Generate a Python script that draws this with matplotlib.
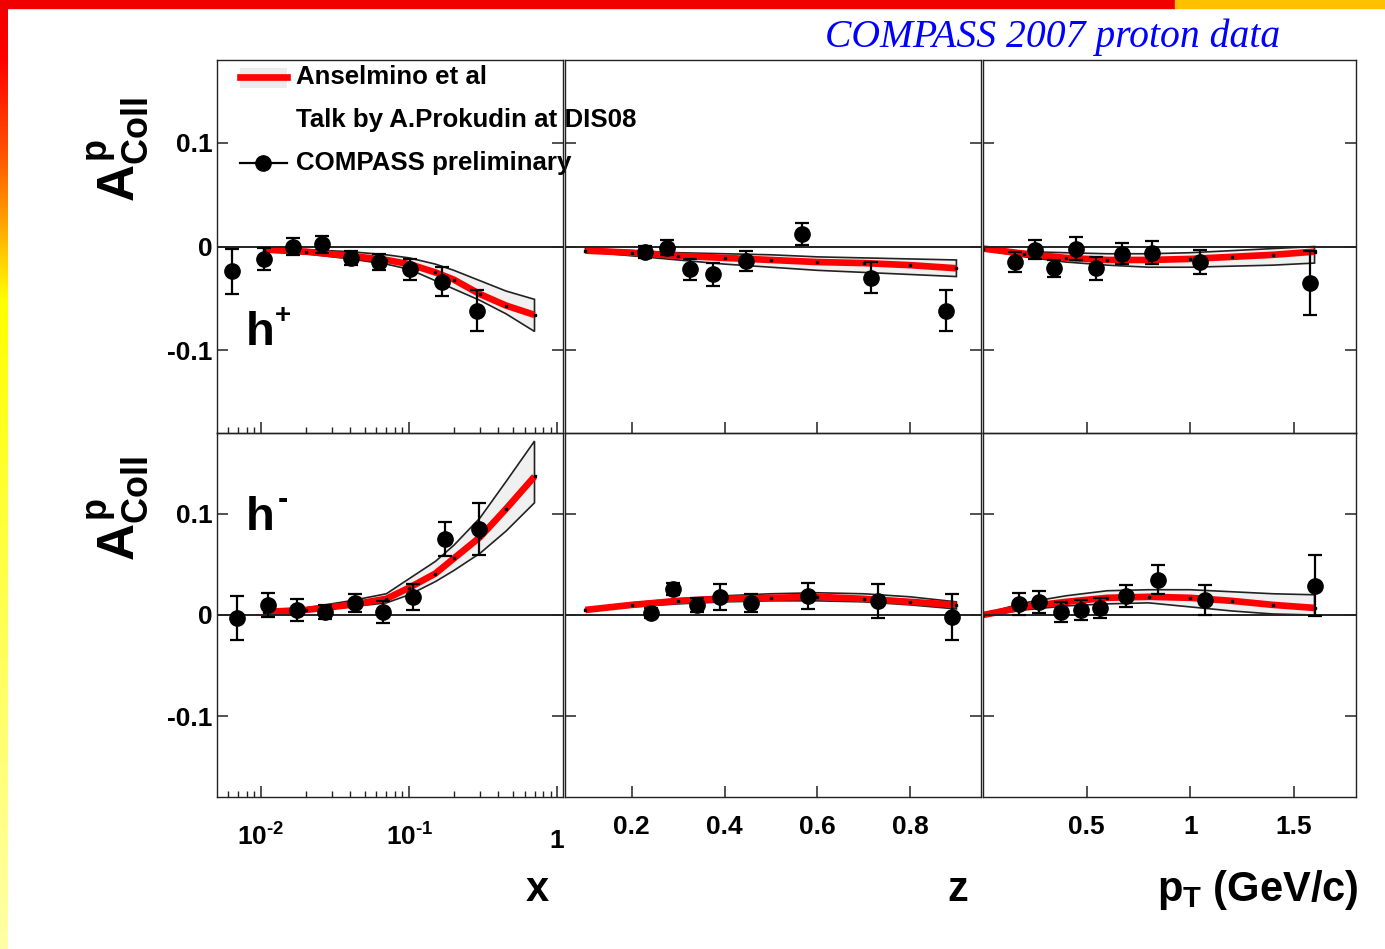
import numpy as np
import matplotlib
matplotlib.use("Agg")
import matplotlib.pyplot as plt
from matplotlib.patches import Rectangle
from matplotlib.lines import Line2D
from matplotlib.ticker import FixedLocator, NullFormatter, NullLocator

plt.rcParams["font.family"] = ["Liberation Sans", "DejaVu Sans"]
plt.rcParams["font.weight"] = "bold"
plt.rcParams["axes.unicode_minus"] = False
plt.rcParams["mathtext.fontset"] = "custom"
plt.rcParams["mathtext.rm"] = "Liberation Sans:bold"
plt.rcParams["mathtext.it"] = "Liberation Sans:bold"
plt.rcParams["mathtext.bf"] = "Liberation Sans:bold"
plt.rcParams["mathtext.sf"] = "Liberation Sans:bold"

# ---------------- data: Collins asymmetry on proton, h+ ----------------
x_hp = [0.0064, 0.0105, 0.0165, 0.0258, 0.0406, 0.0627, 0.1016, 0.165, 0.288]
a_x_hp = [-0.024, -0.012, 0.000, 0.002, -0.011, -0.015, -0.022, -0.034, -0.062]
e_x_hp = [0.022, 0.011, 0.008, 0.008, 0.007, 0.008, 0.010, 0.014, 0.020]

z_hp = [0.228, 0.275, 0.325, 0.376, 0.447, 0.568, 0.716, 0.877]
a_z_hp = [-0.0055, -0.001, -0.022, -0.027, -0.014, 0.012, -0.030, -0.062]
e_z_hp = [0.006, 0.007, 0.010, 0.011, 0.010, 0.011, 0.015, 0.020]

pt_hp = [0.154, 0.250, 0.345, 0.449, 0.545, 0.671, 0.814, 1.045, 1.58]
a_pt_hp = [-0.015, -0.003, -0.021, -0.002, -0.021, -0.007, -0.006, -0.015, -0.035]
e_pt_hp = [0.010, 0.009, 0.008, 0.011, 0.011, 0.010, 0.011, 0.012, 0.031]

# ---------------- data: Collins asymmetry on proton, h- ----------------
x_hm = [0.0069, 0.0111, 0.0175, 0.0271, 0.0432, 0.0669, 0.106, 0.175, 0.296]
a_x_hm = [-0.003, 0.010, 0.005, 0.003, 0.012, 0.003, 0.018, 0.075, 0.085]
e_x_hm = [0.022, 0.012, 0.011, 0.007, 0.009, 0.011, 0.013, 0.017, 0.026]

z_hm = [0.241, 0.288, 0.340, 0.391, 0.458, 0.581, 0.731, 0.890]
a_z_hm = [0.002, 0.026, 0.010, 0.018, 0.012, 0.019, 0.014, -0.002]
e_z_hm = [0.005, 0.006, 0.007, 0.013, 0.009, 0.013, 0.017, 0.023]

pt_hm = [0.173, 0.269, 0.376, 0.471, 0.567, 0.691, 0.843, 1.071, 1.60]
a_pt_hm = [0.011, 0.013, 0.003, 0.005, 0.007, 0.019, 0.035, 0.015, 0.029]
e_pt_hm = [0.011, 0.011, 0.010, 0.010, 0.010, 0.011, 0.014, 0.015, 0.030]

# ---------------- model predictions (Anselmino et al) ----------------
x_model = [0.0105, 0.02, 0.04, 0.07, 0.1, 0.15, 0.2, 0.3, 0.45, 0.7]
x_hp_mid = [-0.003, -0.005, -0.009, -0.013, -0.017, -0.025, -0.032, -0.046, -0.057, -0.066]
x_hp_up = [-0.002, -0.003, -0.005, -0.008, -0.011, -0.017, -0.023, -0.033, -0.043, -0.051]
x_hp_lo = [-0.005, -0.007, -0.012, -0.017, -0.022, -0.033, -0.041, -0.052, -0.065, -0.082]
x_hm_mid = [0.003, 0.005, 0.010, 0.016, 0.027, 0.041, 0.056, 0.077, 0.105, 0.137]
x_hm_up = [0.004, 0.007, 0.014, 0.021, 0.036, 0.053, 0.069, 0.096, 0.132, 0.172]
x_hm_lo = [0.002, 0.004, 0.008, 0.012, 0.020, 0.033, 0.044, 0.061, 0.083, 0.111]

z_model = [0.1, 0.2, 0.3, 0.4, 0.5, 0.6, 0.7, 0.8, 0.9]
z_hp_mid = [-0.004, -0.006, -0.009, -0.011, -0.013, -0.015, -0.016, -0.018, -0.021]
z_hp_up = [-0.002, -0.004, -0.006, -0.007, -0.008, -0.010, -0.011, -0.012, -0.013]
z_hp_lo = [-0.005, -0.009, -0.013, -0.017, -0.020, -0.023, -0.025, -0.027, -0.029]
z_hm_mid = [0.005, 0.010, 0.014, 0.016, 0.017, 0.018, 0.016, 0.013, 0.010]
z_hm_up = [0.006, 0.012, 0.016, 0.019, 0.021, 0.022, 0.021, 0.018, 0.013]
z_hm_lo = [0.004, 0.008, 0.011, 0.013, 0.014, 0.014, 0.013, 0.010, 0.006]

pt_model = [0.0, 0.2, 0.4, 0.6, 0.8, 1.0, 1.2, 1.4, 1.6]
pt_hp_mid = [-0.002, -0.007, -0.011, -0.013, -0.013, -0.012, -0.010, -0.008, -0.005]
pt_hp_up = [-0.001, -0.005, -0.006, -0.007, -0.007, -0.006, -0.004, -0.002, 0.000]
pt_hp_lo = [-0.003, -0.010, -0.015, -0.018, -0.020, -0.020, -0.019, -0.018, -0.016]
pt_hm_mid = [0.000, 0.008, 0.013, 0.017, 0.018, 0.017, 0.014, 0.010, 0.007]
pt_hm_up = [0.001, 0.012, 0.019, 0.024, 0.025, 0.025, 0.023, 0.021, 0.020]
pt_hm_lo = [-0.001, 0.005, 0.009, 0.011, 0.012, 0.008, 0.004, 0.001, 0.000]

y_ticks = [-0.1, 0.0, 0.1]
y_tick_labels = ["-0.1", "0", "0.1"]
z_ticks = [0.2, 0.4, 0.6, 0.8]
z_tick_labels = ["0.2", "0.4", "0.6", "0.8"]
pt_ticks = [0.5, 1.0, 1.5]
pt_tick_labels = ["0.5", "1", "1.5"]
x_ticks = [0.01, 0.1, 1.0]
x_tick_labels = [r"$10^{\text{-}2}$", r"$10^{\text{-}1}$", ""]
x_last_label = "1"

# ---------------- figure layout ----------------
W, H = 1385, 949
fig = plt.figure(figsize=(W / 100, H / 100), dpi=100)
fig.patch.set_facecolor("white")

cols = [(217, 563), (565, 981), (983, 1356)]
rows = [(60, 433), (433, 797)]


def rect(c, r):
    return [c[0] / W, 1 - r[1] / H, (c[1] - c[0]) / W, (r[1] - r[0]) / H]


FRAME = "#222222"
axes = [[fig.add_axes(rect(c, r)) for c in cols] for r in rows]

xlims = [(0.00504, 1.09), (0.056, 0.953), (0.0, 1.80)]

sets = [
    [  # h+
        (x_hp, a_x_hp, e_x_hp, x_model, x_hp_mid, x_hp_up, x_hp_lo),
        (z_hp, a_z_hp, e_z_hp, z_model, z_hp_mid, z_hp_up, z_hp_lo),
        (pt_hp, a_pt_hp, e_pt_hp, pt_model, pt_hp_mid, pt_hp_up, pt_hp_lo),
    ],
    [  # h-
        (x_hm, a_x_hm, e_x_hm, x_model, x_hm_mid, x_hm_up, x_hm_lo),
        (z_hm, a_z_hm, e_z_hm, z_model, z_hm_mid, z_hm_up, z_hm_lo),
        (pt_hm, a_pt_hm, e_pt_hm, pt_model, pt_hm_mid, pt_hm_up, pt_hm_lo),
    ],
]

for i in range(2):
    for j in range(3):
        ax = axes[i][j]
        ax.set_facecolor("none")
        xd, yd, ed, xm, ym, yu, yl = sets[i][j]
        if j == 0:
            ax.set_xscale("log")
        ax.set_xlim(*xlims[j])
        ax.set_ylim(-0.18, 0.18)

        # uncertainty band of the model, closed outline
        bx = np.concatenate([xm, xm[::-1]])
        by = np.concatenate([yu, yl[::-1]])
        ax.fill(bx, by, facecolor="#f0f0f0", edgecolor=FRAME, lw=1.2, zorder=2)
        # central model curve
        ax.plot(xm, ym, color="#ff0000", lw=4.8, solid_capstyle="butt", zorder=3)
        ax.plot(xm, ym, ls="none", marker="s", ms=1.6, color="black", zorder=4)

        ax.axhline(0.0, color=FRAME, lw=1.4, zorder=4)

        ax.errorbar(xd, yd, yerr=ed, fmt="o", color="black", ms=11,
                    elinewidth=1.6, capsize=5, capthick=1.6, zorder=6)

        for sp in ax.spines.values():
            sp.set_color(FRAME)
            sp.set_linewidth(1.0)
            sp.set_zorder(7)

        ax.yaxis.set_major_locator(FixedLocator(y_ticks))
        ax.yaxis.set_minor_locator(NullLocator())
        if j == 0:
            ax.set_yticklabels(y_tick_labels)
        else:
            ax.yaxis.set_major_formatter(NullFormatter())

        if j == 0:
            ax.xaxis.set_major_locator(FixedLocator(x_ticks))
            minors = [m * 10.0 ** d for d in (-3, -2, -1) for m in range(2, 10)]
            ax.xaxis.set_minor_locator(FixedLocator(minors))
            ax.xaxis.set_minor_formatter(NullFormatter())
            labels = x_tick_labels
        elif j == 1:
            ax.xaxis.set_major_locator(FixedLocator(z_ticks))
            ax.xaxis.set_minor_locator(NullLocator())
            labels = z_tick_labels
        else:
            ax.xaxis.set_major_locator(FixedLocator(pt_ticks))
            ax.xaxis.set_minor_locator(NullLocator())
            labels = pt_tick_labels
        if i == 1:
            ax.set_xticklabels(labels)
        else:
            ax.xaxis.set_major_formatter(NullFormatter())

        ax.tick_params(which="major", direction="in", left=True, right=True,
                       top=False, bottom=True, length=8, width=1.1,
                       color=FRAME, labelsize=19, pad=13)
        ax.tick_params(which="minor", direction="in", top=False, bottom=True,
                       length=4.5, width=1.0, color=FRAME)
        ax.tick_params(axis="y", pad=3)

# powers of ten sit a little lower than the linear labels
axes[1][0].tick_params(axis="x", which="major", pad=19)
fig.text(557 / W, 1 - 841 / H, x_last_label, fontsize=19, ha="center", va="center")

# hadron charge labels
fig.text(260 / W, 1 - 333 / H, "h", fontsize=34, ha="center", va="center")
fig.text(283 / W, 1 - 316 / H, "+", fontsize=20, ha="center", va="center")
fig.text(260 / W, 1 - 518 / H, "h", fontsize=34, ha="center", va="center")
fig.text(283 / W, 1 - 500 / H, "-", fontsize=22, ha="center", va="center")

# y axis titles
fig.text(118 / W, 1 - 150 / H, r"$A^{p}_{Coll}$", rotation=90, fontsize=37,
         ha="center", va="center")
fig.text(118 / W, 1 - 509 / H, r"$A^{p}_{Coll}$", rotation=90, fontsize=37,
         ha="center", va="center")

# x axis titles
fig.text(537 / W, 1 - 890 / H, "x", fontsize=30, ha="center", va="center")
fig.text(958 / W, 1 - 890 / H, "z", fontsize=30, ha="center", va="center")
fig.text(1258 / W, 1 - 890 / H, r"$p_{T}$ (GeV/c)", fontsize=30,
         ha="center", va="center")

# legend drawn inside the first panel
lax = axes[0][0]
T = lax.transAxes
lax.add_patch(Rectangle((0.0665, 0.9249), 0.1358, 0.0537, transform=T,
                        facecolor="#ececec", edgecolor="none", clip_on=False, zorder=8))
lax.add_line(Line2D([0.0665, 0.2023], [0.9544, 0.9544], transform=T,
                    color="#ff0000", lw=4.8, clip_on=False, zorder=9))
lax.add_line(Line2D([0.0665, 0.2023], [0.7239, 0.7239], transform=T,
                    color="black", lw=1.6, clip_on=False, zorder=9))
lax.add_line(Line2D([0.133], [0.7239], transform=T, marker="o", ms=11,
                    color="black", clip_on=False, zorder=9))
for ytxt, s in [(0.9544, "Anselmino et al"),
                (0.8391, "Talk by A.Prokudin at DIS08"),
                (0.7239, "COMPASS preliminary")]:
    lax.text(0.2283, ytxt, s, transform=T, fontsize=18.6, ha="left",
             va="center", clip_on=False, zorder=9)

# title
fig.text(1053 / W, 1 - 37 / H, "COMPASS 2007 proton data", color="#0000ff",
         fontfamily="Liberation Serif", style="italic", fontweight="normal",
         fontsize=28.5, ha="center", va="center")

# slide decoration: gradient strip on the left, bar on top
stops_pos = [0.0, 60, 150, 220, 260, 300, 949]
stops_col = np.array([[240, 0, 0], [255, 0, 0], [255, 80, 0], [255, 160, 0],
                      [255, 210, 0], [255, 255, 0], [255, 255, 168]]) / 255.0
ys = np.arange(H)
grad = np.stack([np.interp(ys, stops_pos, stops_col[:, k]) for k in range(3)], axis=1)
sax = fig.add_axes([0, 0, 8 / W, 1])
sax.imshow(grad[:, None, :], aspect="auto", interpolation="bilinear")
sax.set_axis_off()

fig.patches.append(Rectangle((0, 1 - 8 / H), 1175 / W, 8 / H,
                             transform=fig.transFigure, color="#f00000", zorder=10))
fig.patches.append(Rectangle((1175 / W, 1 - 8 / H), 1 - 1175 / W, 8 / H,
                             transform=fig.transFigure, color="#ffc000", zorder=10))

fig.savefig("out.png", dpi=100)
